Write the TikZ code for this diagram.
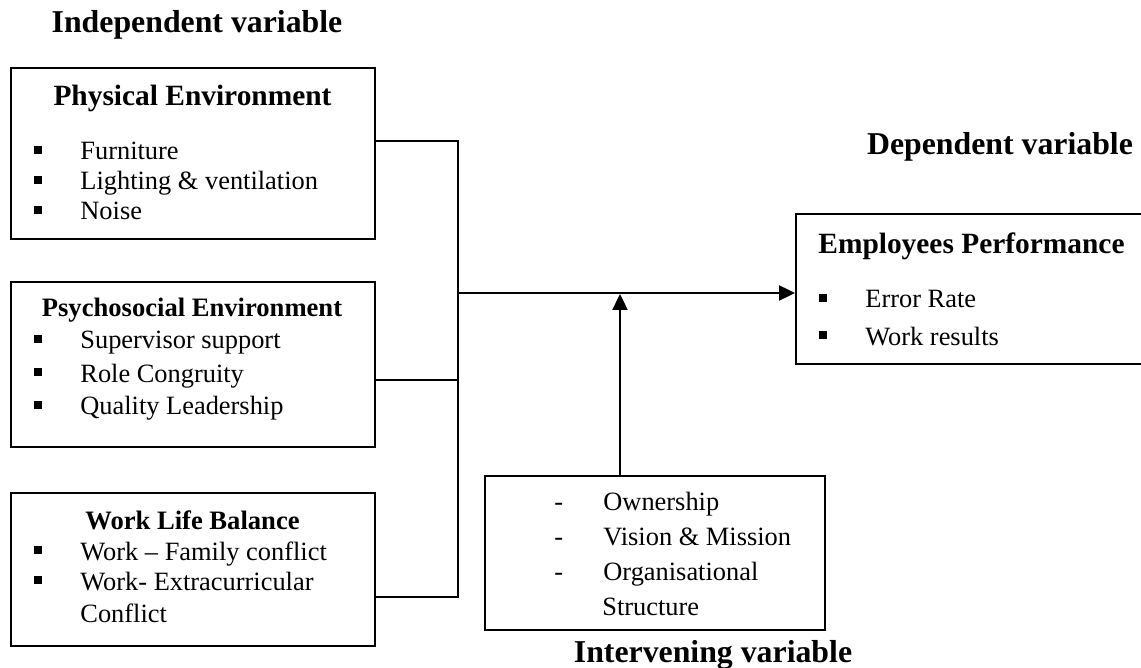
\documentclass[tikz,border=0pt]{standalone}
\usepackage{fontspec}
\setmainfont{Liberation Serif}
\usetikzlibrary{positioning, arrows.meta, calc}

% bullets used inside the boxes
\newcommand{\sqbul}{\makebox[23pt][l]{\raisebox{3pt}{\rule{3.8pt}{3.8pt}}}}
\newcommand{\dashbul}{\makebox[24.5pt][l]{-}}

\begin{document}
\begin{tikzpicture}[x=0.5pt, y=-0.5pt,
    box/.style={draw, line width=1pt, inner sep=0pt},
    head/.style={font=\fontsize{15.9}{19}\selectfont\bfseries, anchor=base, inner sep=0pt},
    ttl/.style={font=\fontsize{14.7}{17}\selectfont\bfseries, anchor=base, inner sep=0pt},
    ttls/.style={font=\fontsize{13.3}{16}\selectfont\bfseries, anchor=base, inner sep=0pt},
    itm/.style={font=\fontsize{13.2}{16}\selectfont, anchor=base west, inner sep=0pt},
    link/.style={line width=1pt},
    arr/.style={line width=1.2pt, -{Triangle[length=8pt,width=7.5pt]}}]

    \useasboundingbox (0,0) rectangle (1141,668);

    % Headings
    \node[head] (indep) at (197,33) {Independent variable};
    \node[head] (dep) at (1000,155) {Dependent variable};
    \node[head] (interT) at (713,662) {Intervening variable};

    % Independent boxes
    \node[box, minimum width=182pt, minimum height=85.5pt] (phys) at (193,153.5) {};
    \node[ttl] (physT) at (192.5,106) {Physical Environment};
    \node[itm] (phys1) at (34,160) {\sqbul Furniture};
    \node[itm] (phys2) at (34,190) {\sqbul Lighting \& ventilation};
    \node[itm] (phys3) at (34,220) {\sqbul Noise};

    \node[box, minimum width=182pt, minimum height=82.5pt] (psych) at (193,364.5) {};
    \node[ttls] (psychT) at (192,317) {Psychosocial Environment};
    \node[itm] (psych1) at (34,349) {\sqbul Supervisor support};
    \node[itm] (psych2) at (34,382) {\sqbul Role Congruity};
    \node[itm] (psych3) at (34,415) {\sqbul Quality Leadership};

    \node[box, minimum width=182pt, minimum height=76.5pt] (work) at (193,569.5) {};
    \node[ttls] (workT) at (192.5,529) {Work Life Balance};
    \node[itm] (work1) at (34,560) {\sqbul Work -- Family conflict};
    \node[itm] (work2) at (34,590) {\sqbul Work- Extracurricular};
    \node[itm] (work3) at (80,622) {Conflict};

    % Dependent box
    \node[box, minimum width=182pt, minimum height=75pt] (perf) at (978,289) {};
    \node[ttl, anchor=base west] (perfT) at (818,254) {Employees Performance};
    \node[itm] (perf1) at (819,308) {\sqbul Error Rate};
    \node[itm] (perf2) at (819,345) {\sqbul Work results};

    % Intervening box
    \node[box, minimum width=170pt, minimum height=77pt] (inter) at (655,553) {};
    \node[itm] (inter1) at (554,510) {\dashbul Ownership};
    \node[itm] (inter2) at (554,545) {\dashbul Vision \& Mission};
    \node[itm] (inter3) at (554,580) {\dashbul Organisational};
    \node[itm] (inter4) at (602,615) {Structure};

    % Connectors
    \coordinate (top) at (458,141);
    \coordinate (mid) at (458,380);
    \coordinate (bot) at (458,597);
    \coordinate (hub) at (458,293);
    \coordinate (up) at (620,294);

    \draw[link] (top -| phys.east) -- (top) -- (bot) -- (bot -| work.east);
    \draw[link] (mid -| psych.east) -- (mid);
    \draw[arr] (hub) -- (hub -| perf.west);
    \draw[arr] (up |- inter.north) -- (up);
\end{tikzpicture}
\end{document}
